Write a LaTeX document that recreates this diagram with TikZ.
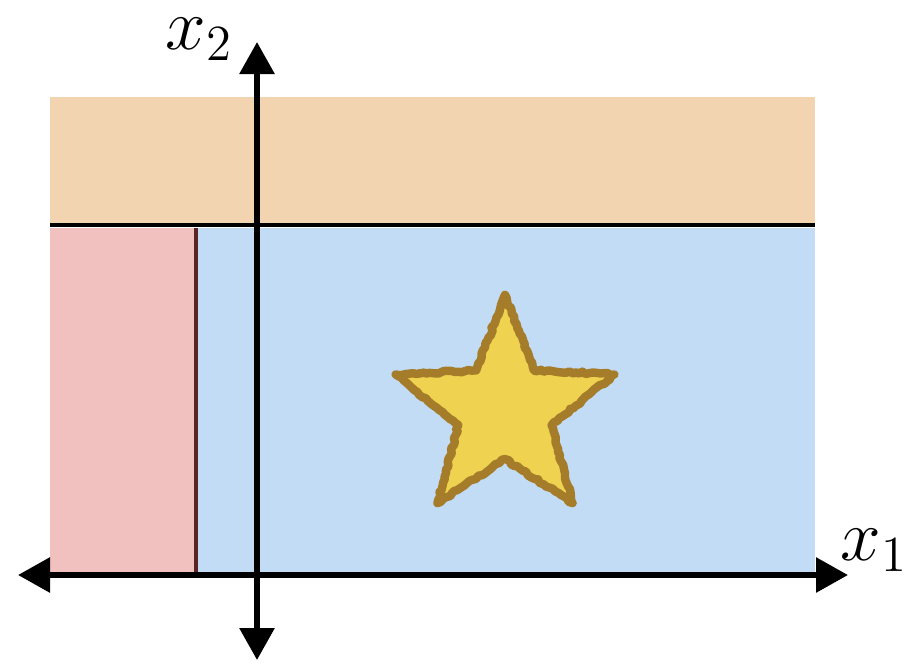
\documentclass[tikz,border=0pt]{standalone}
\usepackage{amsmath}
\usetikzlibrary{calc,arrows.meta,decorations.pathmorphing}
\definecolor{zonaTop}{HTML}{F3D4B1}
\definecolor{zonaLeft}{HTML}{F0C1BF}
\definecolor{zonaMain}{HTML}{C2DCF6}
\definecolor{borde}{HTML}{5A2424}
\definecolor{estrella}{HTML}{EFD24F}
\definecolor{estrellaBorde}{HTML}{A57D2A}

\begin{document}
\begin{tikzpicture}[line width=0.9pt,>={Triangle[length=3.2mm,width=3.4mm]}]
  \useasboundingbox (0,0) rectangle (9.07,6.63);
  % regiones
  \fill[zonaTop] (0.50,4.38) rectangle (8.15,5.66);
  \fill[zonaLeft] (0.50,0.91) rectangle (1.96,4.35);
  \fill[zonaMain] (1.96,0.91) rectangle (8.15,4.35);
  \draw[line width=1.1pt] (0.50,4.38)--(8.15,4.38);
  \draw[borde,line width=1.1pt] (1.96,0.91)--(1.96,4.35);
  % estrella
  \coordinate (meta) at (5.05,2.53);
  \draw[fill=estrella,draw=estrellaBorde,line width=2.4pt,line join=round,
        decorate,decoration={random steps,segment length=1pt,amplitude=0.35pt}]
    ($(meta)+(90:1.15)$)
    \foreach \a in {90,162,234,306,18} {
      -- ($(meta)+(\a:1.15)$) -- ($(meta)+(\a+36:0.49)$)
    } -- cycle;
  % ejes
  \coordinate (xl) at (0.18,0.88); \coordinate (xr) at (8.48,0.88);
  \coordinate (yb) at (2.57,0.03); \coordinate (yt) at (2.57,6.21);
  \draw[<->,line width=1.7pt] (xl)--(xr);
  \draw[<->,line width=1.7pt] (yb)--(yt);
  \node[font=\huge,inner sep=1pt] (ejex) at (8.74,1.13) {$x_1$};
  \node[font=\huge,inner sep=1pt] (ejey) at (1.99,6.24) {$x_2$};
\end{tikzpicture}
\end{document}
